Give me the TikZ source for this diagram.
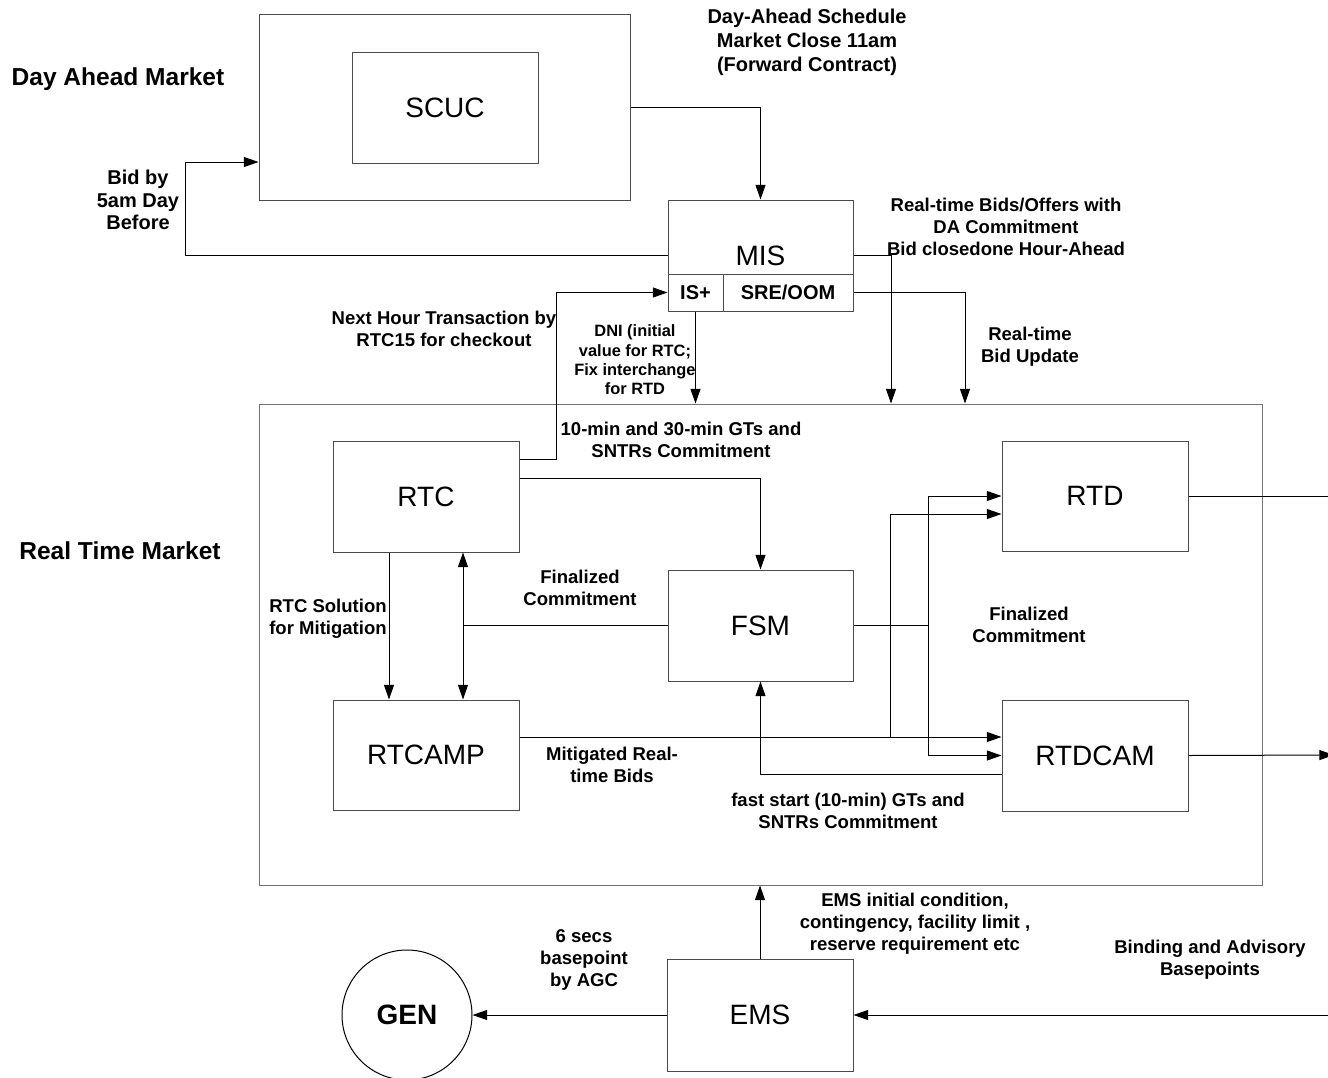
\documentclass[tikz,border=0pt]{standalone}
\usepackage{fontspec}
\setmainfont{Liberation Sans}
\usetikzlibrary{arrows.meta}
\begin{document}
\begin{tikzpicture}[x=0.75pt,y=-0.75pt]
\tikzset{
  box/.style={draw=black!70, line width=0.75pt, inner sep=0pt, fill=white,
              font=\fontsize{21}{25}\selectfont},
  bigbox/.style={draw=black!55, line width=0.75pt, inner sep=0pt},
  lbl/.style={font=\bfseries\fontsize{13.9}{16.5}\selectfont, align=center, inner sep=0pt},
  conn/.style={line width=0.75pt, draw=black},
  arr/.style={conn, -{Triangle[length=11pt,width=7.5pt]}},
  darr/.style={conn, {Triangle[length=11pt,width=7.5pt]}-{Triangle[length=11pt,width=7.5pt]}},
}
\useasboundingbox (0,0) rectangle (1328,1078);

% big frames
\node[bigbox, draw=black!70, minimum width=278.25pt, minimum height=139.5pt] (dam) at (444.5,107) {};
\node[bigbox, minimum width=752.25pt, minimum height=360.75pt] (rt) at (760.5,644.5) {};

% boxes
\node[box, minimum width=139.5pt, minimum height=83.25pt] (scuc) at (445,107.5) {SCUC};
\node[box, minimum width=138.75pt, minimum height=83.25pt] (mis) at (760.5,255.5) {MIS};
\node[box, minimum width=41.25pt, minimum height=27.75pt, font=\bfseries\fontsize{15}{18}\selectfont] (isp) at (695.5,292.5) {IS+};
\node[box, minimum width=97.5pt, minimum height=27.75pt, font=\bfseries\fontsize{15}{18}\selectfont] (sre) at (788,292.5) {SRE/OOM};
\node[box, minimum width=139.5pt, minimum height=83.25pt] (rtc) at (426,496.5) {RTC};
\node[box, minimum width=139.5pt, minimum height=82.5pt] (rtcamp) at (426,755) {RTCAMP};
\node[box, minimum width=138.75pt, minimum height=83.25pt] (fsm) at (760.5,625.5) {FSM};
\node[box, minimum width=139.5pt, minimum height=82.5pt] (rtd) at (1095,496) {RTD};
\node[box, minimum width=139.5pt, minimum height=83.25pt] (rtdcam) at (1095,755.5) {RTDCAM};
\node[box, minimum width=139.5pt, minimum height=84pt] (ems) at (760,1015) {EMS};
\node[circle, draw=black, line width=0.75pt, inner sep=0pt, minimum size=97.5pt,
      font=\bfseries\fontsize{21}{25}\selectfont] (gen) at (407,1015) {GEN};

% free ends and junctions
\coordinate (bidL) at (185,162);
\coordinate (nh) at (556,459);
\coordinate (j1) at (928,625.5);
\coordinate (j2) at (890,737);
\coordinate (j3) at (463,625.5);
\coordinate (outA) at (1330,496);
\coordinate (outB) at (1334,755);
\coordinate (inC) at (1330,1015);

% connectors
\draw[arr] (dam.east) -| (mis.north);
\draw[arr] (mis.west) -| (bidL) -- (dam.west |- bidL);
\draw[arr] (mis.east) -| (rt.north -| 891,0);
\draw[arr] (sre.east) -| (rt.north -| 965,0);
\draw[arr] (isp.south) -- (isp.south |- rt.north);
\draw[arr] (rtc.east |- nh) -- (nh) |- (isp.west);
\draw[arr] (rtc.east |- 0,478) -| (fsm.north);
\draw[arr] (rtc.south -| 389,0) -- (rtcamp.north -| 389,0);
\draw[darr] (rtc.south -| j3) -- (rtcamp.north -| j3);
\draw[conn] (fsm.west) -- (j3);
\draw[arr] (rtcamp.east |- j2) -- (rtdcam.west |- j2);
\draw[arr] (j2) |- (rtd.west |- 0,514);
\draw[conn] (fsm.east) -- (j1);
\draw[arr] (j1) |- (rtd.west);
\draw[arr] (j1) |- (rtdcam.west);
\draw[arr] (rtdcam.west |- 0,774) -| (fsm.south);
\draw[conn] (rtd.east) -- (outA);
\draw[arr] (rtdcam.east) -- (outB);
\draw[arr] (ems.north) -- (ems.north |- rt.south);
\draw[arr] (ems.west) -- (gen.east);
\draw[arr] (inC) -- (ems.east);

% labels
\node[lbl, font=\bfseries\fontsize{18.4}{22}\selectfont] (tdam) at (118,79) {Day Ahead Market};
\node[lbl, font=\bfseries\fontsize{18.4}{22}\selectfont] (trt) at (120,551) {Real Time Market};
\node[lbl, font=\bfseries\fontsize{15}{16.9}\selectfont] (tbid) at (138,200) {Bid by\\5am Day\\Before};
\node[lbl, font=\bfseries\fontsize{15}{18}\selectfont] (tdas) at (807,42) {Day-Ahead Schedule\\Market Close 11am\\(Forward Contract)};
\node[lbl] (trtb) at (1006,227) {Real-time Bids/Offers with\\DA Commitment\\Bid closedone Hour-Ahead};
\node[lbl] (trbu) at (1030,347) {Real-time\\Bid Update};
\node[lbl] (tnh) at (444,329) {Next Hour Transaction by\\RTC15 for checkout};
\node[lbl, font=\bfseries\fontsize{12.3}{14.5}\selectfont] (tdni) at (635,360) {DNI (initial\\value for RTC;\\Fix interchange\\for RTD};
\node[lbl] (t10) at (681,440) {10-min and 30-min GTs and\\SNTRs Commitment};
\node[lbl] (tfc1) at (580,588) {Finalized\\Commitment};
\node[lbl] (tsol) at (328,619) {RTC Solution\\for Mitigation};
\node[lbl] (tfc2) at (1029,625) {Finalized\\Commitment};
\node[lbl] (tmit) at (612,765) {Mitigated Real-\\time Bids};
\node[lbl] (tfast) at (848,811) {fast start (10-min) GTs and\\SNTRs Commitment};
\node[lbl] (tems) at (915,924) {EMS initial condition,\\contingency, facility limit ,\\reserve requirement etc};
\node[lbl] (tbind) at (1210,960) {Binding and Advisory\\Basepoints};
\node[lbl] (tagc) at (584,960) {6 secs\\basepoint\\by AGC};
\end{tikzpicture}
\end{document}
